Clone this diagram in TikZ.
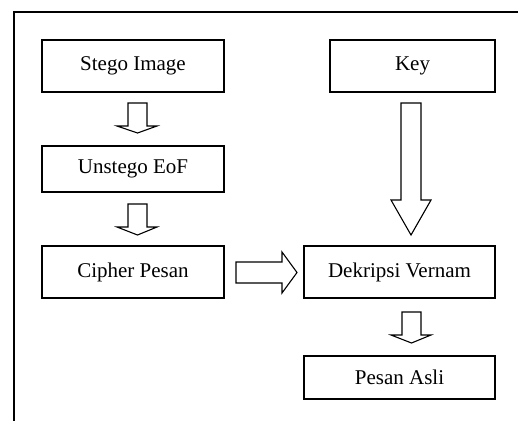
\documentclass[tikz,border=0pt]{standalone}
\usepackage{fontspec}
\setmainfont{Liberation Serif}
\begin{document}
\begin{tikzpicture}[x=1pt,y=-1pt,
  box/.style={draw=black,line width=1.1pt,rectangle,inner sep=0pt,font=\fontsize{21}{25}\selectfont},
  blockarrow/.style={draw=black,line width=1.1pt,fill=white,line join=miter},
  frameline/.style={draw=black,line width=1.4pt}]
\useasboundingbox (0,0) rectangle (518,421);
% frame
\coordinate (fr) at (518,12);
\coordinate (fc) at (14,12);
\coordinate (fb) at (14,421);
\draw[frameline] (fr) -- (fc) -- (fb);
% boxes
\node[box,minimum width=182pt,minimum height=52pt] (stego) at (133,66) {Stego Image};
\node[box,minimum width=182pt,minimum height=46pt] (unstego) at (133,169) {Unstego EoF};
\node[box,minimum width=182pt,minimum height=52pt] (cipher) at (133,272) {Cipher Pesan};
\node[box,minimum width=165pt,minimum height=52pt] (key) at (412.5,66) {Key};
\node[box,minimum width=191pt,minimum height=52pt] (dek) at (399.5,272) {Dekripsi Vernam};
\node[box,minimum width=191pt,minimum height=43pt] (asli) at (399.5,377.5) {Pesan Asli};
% block arrows (down)
\draw[blockarrow] (128,103) -- (147,103) -- (147,126) -- (157,126) -- (137.5,133) -- (117,126) -- (128,126) -- cycle;
\draw[blockarrow] (128,204) -- (147,204) -- (147,227) -- (157,227) -- (137.5,235) -- (117,227) -- (128,227) -- cycle;
\draw[blockarrow] (401,103) -- (421,103) -- (421,200) -- (431,200) -- (411,235) -- (391,200) -- (401,200) -- cycle;
\draw[blockarrow] (402,312) -- (421,312) -- (421,335) -- (431,335) -- (411.5,343) -- (391,335) -- (402,335) -- cycle;
% block arrow (right)
\draw[blockarrow] (236,262) -- (282,262) -- (282,252) -- (297,272.5) -- (282,293) -- (282,283) -- (236,283) -- cycle;
\end{tikzpicture}
\end{document}
